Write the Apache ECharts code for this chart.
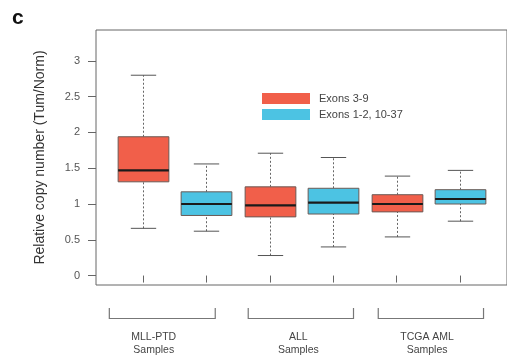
<!DOCTYPE html>
<html>
<head>
<meta charset="utf-8">
<script src="https://cdn.jsdelivr.net/npm/echarts@6/dist/echarts.min.js"></script>
<style>
  html, body { margin: 0; padding: 0; background: #fff; }
  #chart { width: 507px; height: 357px; }
</style>
</head>
<body>
<div id="chart"></div>
<script>
// sample groups along the x axis
const groups = ['MLL-PTD', 'ALL', 'TCGA AML']
// [min, Q1, median, Q3, max] per group
const exons39 = [
  [0.66, 1.31, 1.47, 1.94, 2.80],
  [0.28, 0.82, 0.98, 1.24, 1.71],
  [0.54, 0.89, 1.00, 1.13, 1.39]
]
const exonsOther = [
  [0.62, 0.84, 1.00, 1.17, 1.56],
  [0.40, 0.86, 1.02, 1.22, 1.65],
  [0.76, 1.00, 1.07, 1.20, 1.47]
]
const yTicks = [0, 0.5, 1, 1.5, 2, 2.5, 3]
const xTicks = [1, 2, 3, 4, 5, 6]

// layout only: bracket extents under the axis (x units)
const bracketSpan = [[0.47, 2.14], [2.66, 4.32], [4.71, 6.37]]
const groupLabelX = [1.17, 3.45, 5.48]

const FONT = '"Liberation Sans", Arial, Helvetica, sans-serif'
const RED = '#f15f4a'
const BLUE = '#4cc3e3'

function renderBox (params, api) {
  const x = api.value(0)
  const p = [1, 2, 3, 4, 5].map(i => api.coord([x, api.value(i)]))
  const cx = Math.round(p[0][0]) + 0.5
  const w = api.size([0.8, 0])[0]
  const cw = api.size([0.4, 0])[0]
  const whisker = { stroke: '#666', lineWidth: 1, lineDash: [2, 2] }
  const cap = { stroke: '#555', lineWidth: 1 }
  return {
    type: 'group',
    children: [
      { type: 'line', shape: { x1: cx, y1: p[0][1], x2: cx, y2: p[1][1] }, style: whisker },
      { type: 'line', shape: { x1: cx, y1: p[3][1], x2: cx, y2: p[4][1] }, style: whisker },
      { type: 'line', shape: { x1: cx - cw / 2, y1: p[0][1], x2: cx + cw / 2, y2: p[0][1] }, style: cap },
      { type: 'line', shape: { x1: cx - cw / 2, y1: p[4][1], x2: cx + cw / 2, y2: p[4][1] }, style: cap },
      {
        type: 'rect',
        shape: { x: cx - w / 2, y: p[3][1], width: w, height: p[1][1] - p[3][1] },
        style: { fill: api.visual('color'), stroke: '#6b5a55', lineWidth: 1 }
      },
      { type: 'line', shape: { x1: cx - w / 2, y1: p[2][1], x2: cx + w / 2, y2: p[2][1] }, style: { stroke: '#1a1a1a', lineWidth: 2.2 } }
    ]
  }
}

function renderBracket (params, api) {
  const cs = params.coordSys
  const bottom = cs.y + cs.height
  const x0 = api.coord([api.value(0), 0])[0]
  const x1 = api.coord([api.value(1), 0])[0]
  const lx = api.coord([api.value(2), 0])[0]
  const yTop = bottom + 23
  const yLine = Math.round(bottom + 33) + 0.5
  const st = { stroke: '#777', lineWidth: 1.2, fill: null }
  return {
    type: 'group',
    children: [
      { type: 'polyline', shape: { points: [[x0, yTop], [x0, yLine], [x1, yLine], [x1, yTop]] }, style: st },
      {
        type: 'text',
        style: {
          text: groups[params.dataIndex] + '\nSamples',
          x: lx,
          y: bottom + 45,
          align: 'center',
          verticalAlign: 'top',
          font: '10.5px ' + FONT,
          lineHeight: 13.5,
          fill: '#444'
        }
      }
    ]
  }
}

const chart = echarts.init(document.getElementById('chart'))
chart.setOption({
  animation: false,
  graphic: [
    { type: 'text', left: 12, top: 8, style: { text: 'c', font: 'bold 21px ' + FONT, fill: '#111' } }
  ],
  legend: {
    orient: 'vertical',
    left: 262,
    top: 93,
    padding: 0,
    itemWidth: 48,
    itemHeight: 11,
    itemGap: 5,
    icon: 'rect',
    data: ['Exons 3-9', 'Exons 1-2, 10-37'],
    textStyle: { fontFamily: FONT, fontSize: 11, color: '#444', padding: [0, 0, 0, 4] }
  },
  grid: {
    left: 96,
    top: 30,
    right: -4,
    bottom: 72,
    show: true,
    borderColor: '#666',
    borderWidth: 1
  },
  xAxis: {
    type: 'value',
    min: 0.26,
    max: 6.74,
    axisLine: { show: false },
    splitLine: { show: false },
    axisLabel: { show: false },
    axisTick: { show: true, inside: false, length: 7, customValues: xTicks, lineStyle: { color: '#666' } }
  },
  yAxis: {
    type: 'value',
    min: -0.132,
    max: 3.432,
    name: 'Relative copy number (Tum/Norm)',
    nameLocation: 'middle',
    nameRotate: 90,
    nameGap: 49,
    nameTextStyle: { fontFamily: FONT, fontSize: 14, color: '#333' },
    axisLine: { show: false },
    splitLine: { show: false },
    axisTick: { show: true, inside: false, length: 8, customValues: yTicks, lineStyle: { color: '#666' } },
    axisLabel: {
      customValues: yTicks,
      margin: 16,
      fontFamily: FONT,
      fontSize: 11,
      color: '#555',
      formatter: v => String(v)
    }
  },
  series: [
    {
      name: 'Exons 3-9',
      type: 'custom',
      renderItem: renderBox,
      itemStyle: { color: RED },
      encode: { x: 0, y: [1, 2, 3, 4, 5] },
      data: exons39.map((d, i) => [2 * i + 1].concat(d))
    },
    {
      name: 'Exons 1-2, 10-37',
      type: 'custom',
      renderItem: renderBox,
      itemStyle: { color: BLUE },
      encode: { x: 0, y: [1, 2, 3, 4, 5] },
      data: exonsOther.map((d, i) => [2 * i + 2].concat(d))
    },
    {
      type: 'custom',
      renderItem: renderBracket,
      clip: false,
      silent: true,
      encode: { x: [0, 1, 2] },
      data: groups.map((g, i) => [bracketSpan[i][0], bracketSpan[i][1], groupLabelX[i]])
    }
  ]
})
</script>
</body>
</html>
